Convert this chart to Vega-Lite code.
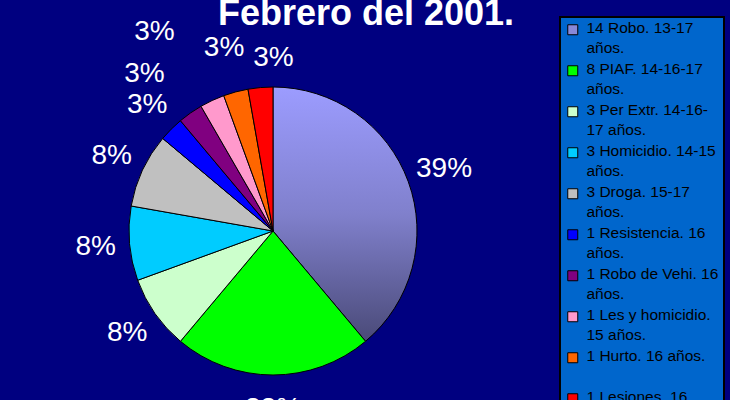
{
  "$schema": "https://vega.github.io/schema/vega-lite/v6.json",
  "autosize": {"type": "none"},
  "width": 288,
  "height": 288,
  "padding": {"left": 129, "top": 87, "right": 313, "bottom": 25},
  "background": "#000080",
  "config": {"view": {"stroke": null}},
  "title": {
    "text": "Febrero del 2001.",
    "color": "white",
    "font": "Liberation Sans",
    "fontSize": 36,
    "fontWeight": "bold",
    "anchor": "middle",
    "baseline": "alphabetic",
    "offset": 0,
    "dx": 93,
    "dy": 45
  },
  "data": {
    "values": [
      {"orden": 1, "categoria": "14 Robo. 13-17|años.", "casos": 14, "pct": "39%"},
      {"orden": 2, "categoria": "8 PIAF. 14-16-17|años.", "casos": 8, "pct": "22%"},
      {"orden": 3, "categoria": "3 Per Extr. 14-16-|17 años.", "casos": 3, "pct": "8%"},
      {"orden": 4, "categoria": "3 Homicidio. 14-15|años.", "casos": 3, "pct": "8%"},
      {"orden": 5, "categoria": "3 Droga. 15-17|años.", "casos": 3, "pct": "8%"},
      {"orden": 6, "categoria": "1 Resistencia. 16|años.", "casos": 1, "pct": "3%"},
      {"orden": 7, "categoria": "1 Robo de Vehi. 16|años.", "casos": 1, "pct": "3%"},
      {"orden": 8, "categoria": "1 Les y homicidio.|15 años.", "casos": 1, "pct": "3%"},
      {"orden": 9, "categoria": "1 Hurto. 16 años.|", "casos": 1, "pct": "3%"},
      {"orden": 10, "categoria": "1 Lesiones. 16|años.", "casos": 1, "pct": "3%"}
    ]
  },
  "layer": [
    {
      "mark": {"type": "arc", "stroke": "black", "strokeWidth": 1},
      "encoding": {
        "theta": {"field": "casos", "type": "quantitative", "stack": true},
        "order": {"field": "orden", "type": "quantitative"},
        "color": {
          "condition": {
            "test": "datum.orden == 1",
            "value": {
              "gradient": "linear",
              "x1": 0, "y1": 0, "x2": 0, "y2": 1,
              "stops": [
                {"offset": 0, "color": "#9c9cff"},
                {"offset": 0.5, "color": "#8080cc"},
                {"offset": 1, "color": "#4a4a78"}
              ]
            }
          },
          "field": "categoria",
          "type": "nominal",
          "scale": {
            "domain": [
              "14 Robo. 13-17|años.",
              "8 PIAF. 14-16-17|años.",
              "3 Per Extr. 14-16-|17 años.",
              "3 Homicidio. 14-15|años.",
              "3 Droga. 15-17|años.",
              "1 Resistencia. 16|años.",
              "1 Robo de Vehi. 16|años.",
              "1 Les y homicidio.|15 años.",
              "1 Hurto. 16 años.|",
              "1 Lesiones. 16|años."
            ],
            "range": ["#8888d8", "#00ff00", "#ccffcc", "#00ccff", "#c0c0c0", "#0000ff", "#800080", "#ff99cc", "#ff6600", "#ff0000"]
          },
          "legend": {
            "orient": "none",
            "legendX": 431,
            "legendY": -70,
            "title": null,
            "fillColor": "#0066cc",
            "strokeColor": "black",
            "padding": 5,
            "symbolType": "square",
            "symbolSize": 100,
            "symbolStrokeColor": "black",
            "symbolStrokeWidth": 1,
            "symbolOpacity": 1,
            "labelFont": "Liberation Sans",
            "labelFontSize": 15.5,
            "labelColor": "black",
            "labelLimit": 0,
            "labelOffset": 6,
            "labelBaseline": "top",
            "rowPadding": 4,
            "labelExpr": "split(datum.label, '|')",
            "encode": {
              "labels": {"update": {"lineHeight": {"value": 20}, "dy": {"value": -9}}},
              "legend": {"update": {"strokeWidth": {"value": 2}}}
            }
          }
        }
      }
    },
    {
      "mark": {
        "type": "text",
        "color": "white",
        "font": "Liberation Sans",
        "fontSize": 28,
        "radius": {"expr": "datum.orden == 7 ? 203 : datum.orden == 8 ? 232 : datum.orden == 9 ? 189 : datum.orden == 10 ? 173 : datum.orden == 1 ? 182 : 178"},
        "thetaOffset": {"expr": "datum.orden == 7 ? -0.075 : datum.orden == 8 ? -0.1 : datum.orden == 10 ? 0.09 : 0"}
      },
      "encoding": {
        "theta": {"field": "casos", "type": "quantitative", "stack": true},
        "order": {"field": "orden", "type": "quantitative"},
        "text": {"field": "pct", "type": "nominal"}
      }
    }
  ]
}
